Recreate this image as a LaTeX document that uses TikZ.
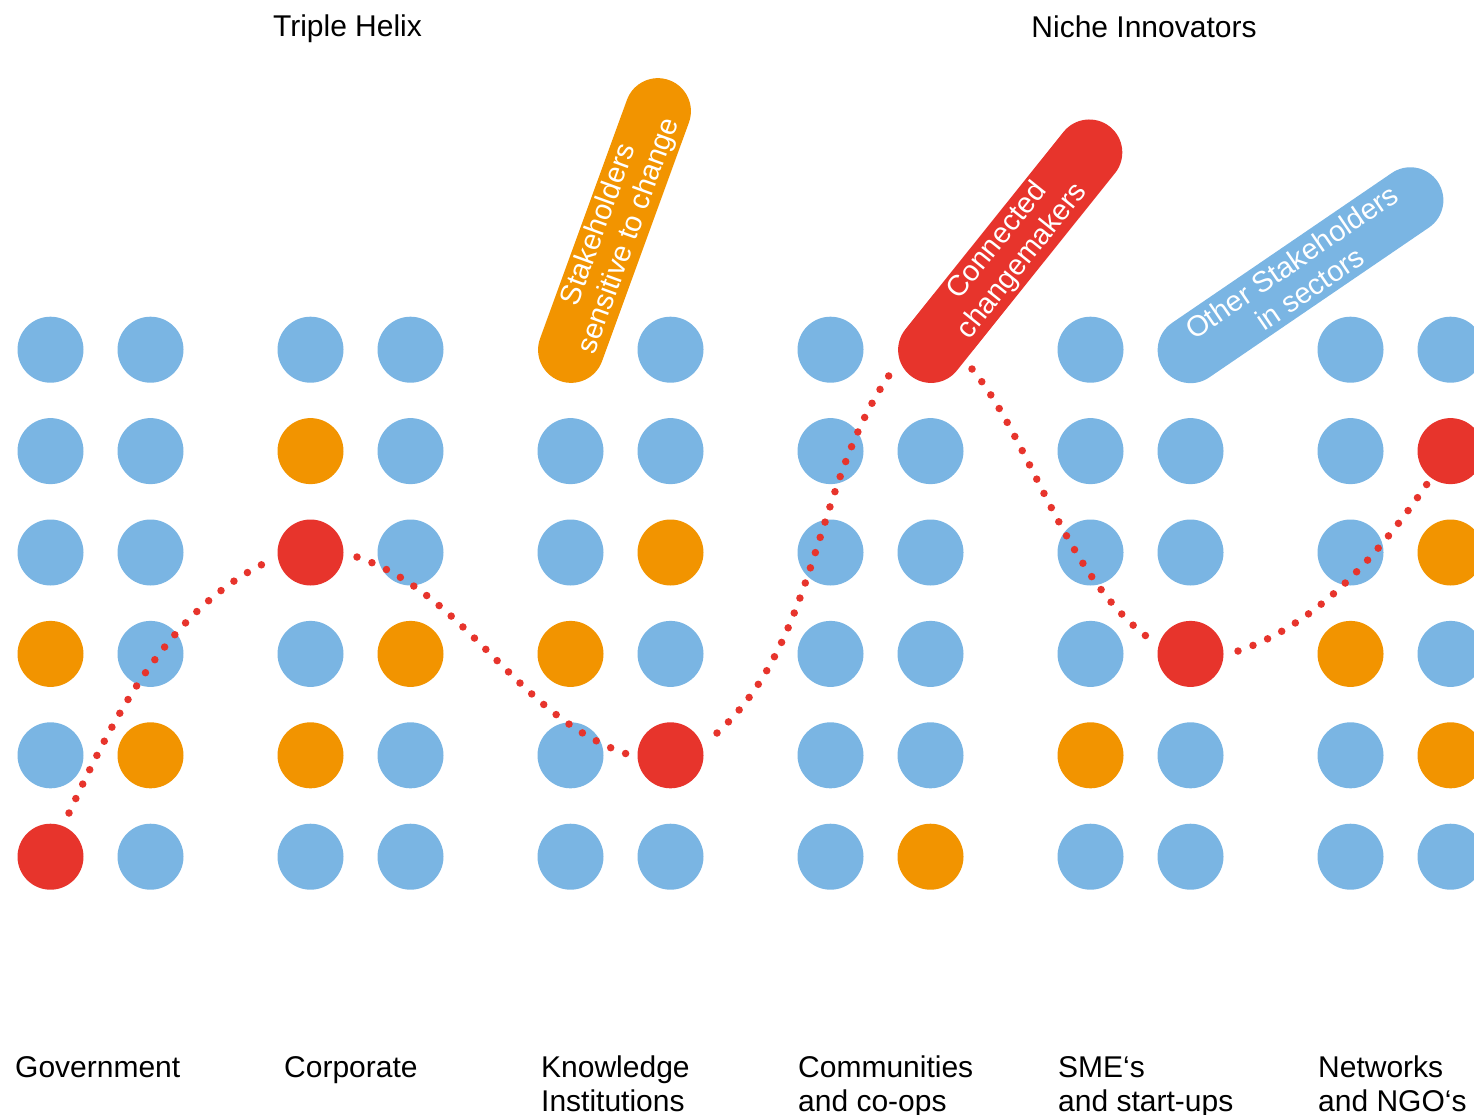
\documentclass[tikz,border=0pt]{standalone}
\usepackage{fontspec}
\setmainfont{Liberation Sans}
\usetikzlibrary{shapes.misc}
\definecolor{cblue}{RGB}{122,181,227}
\definecolor{corange}{RGB}{242,148,0}
\definecolor{cred}{RGB}{231,52,44}
\tikzset{
  circ/.style={circle, minimum size=66pt, inner sep=0pt, draw=none},
  kb/.style={fill=cblue}, ko/.style={fill=corange}, kr/.style={fill=cred},
  pill/.style={rounded rectangle, minimum height=66pt, inner sep=0pt, draw=none,
     text=white, align=center, font=\fontsize{29}{32}\selectfont},
  lbl/.style={anchor=base west, inner sep=0pt, align=left, font=\fontsize{30}{34}\selectfont},
  ttl/.style={anchor=base, inner sep=0pt, font=\fontsize{30}{34}\selectfont},
  dotline/.style={draw=cred, line width=7.5pt, line cap=round, dash pattern=on 0pt off 16pt}
}
\begin{document}
\begin{tikzpicture}[x=1pt, y=-1pt]
\useasboundingbox (0,0) rectangle (1474,1114);
% grid of circles
\foreach \j in {1,2,3,4,6,7,9,11,12}{
  \pgfmathsetmacro{\xx}{50.5+260*floor((\j-1)/2)+100*mod(\j-1,2)}
  \node[circ, kb] (c1-\j) at (\xx,349.7) {};
}
\foreach \k [count=\j] in {b,b,o,b,b,b,b,b,b,b,b,r}{
  \pgfmathsetmacro{\xx}{50.5+260*floor((\j-1)/2)+100*mod(\j-1,2)}
  \node[circ, k\k] (c2-\j) at (\xx,451.1) {};
}
\foreach \k [count=\j] in {b,b,r,b,b,o,b,b,b,b,b,o}{
  \pgfmathsetmacro{\xx}{50.5+260*floor((\j-1)/2)+100*mod(\j-1,2)}
  \node[circ, k\k] (c3-\j) at (\xx,552.5) {};
}
\foreach \k [count=\j] in {o,b,b,o,o,b,b,b,b,r,o,b}{
  \pgfmathsetmacro{\xx}{50.5+260*floor((\j-1)/2)+100*mod(\j-1,2)}
  \node[circ, k\k] (c4-\j) at (\xx,653.9) {};
}
\foreach \k [count=\j] in {b,o,o,b,b,r,b,b,o,b,b,o}{
  \pgfmathsetmacro{\xx}{50.5+260*floor((\j-1)/2)+100*mod(\j-1,2)}
  \node[circ, k\k] (c5-\j) at (\xx,755.3) {};
}
\foreach \k [count=\j] in {r,b,b,b,b,b,b,o,b,b,b,b}{
  \pgfmathsetmacro{\xx}{50.5+260*floor((\j-1)/2)+100*mod(\j-1,2)}
  \node[circ, k\k] (c6-\j) at (\xx,856.7) {};
}
% pills
\node[pill, fill=corange, minimum width=320pt, rotate=70] (p1) at (614.5,230.5) {Stakeholders\\sensitive to change};
\node[pill, fill=cred, minimum width=319pt, rotate=51.3] (p2) at (1010.2,251.2) {Connected\\changemakers};
\node[pill, fill=cblue, minimum width=332pt, rotate=34.3] (p3) at (1300.5,275.2) {Other Stakeholders\\in sectors};
% dotted path
\coordinate (d1s) at (69,813);   \coordinate (d1e) at (263,564);
\coordinate (d2s) at (357,557);  \coordinate (d2e) at (627,754);
\coordinate (d3s) at (717,733);  \coordinate (d3e) at (890,374);
\coordinate (d4s) at (972,369);  \coordinate (d4e) at (1146,636);
\coordinate (d5s) at (1238,651); \coordinate (d5e) at (1427,484);
\draw[dotline] (d1s) .. controls (108,730) and (163,614) .. (d1e);
\draw[dotline] (d2s) .. controls (467,594) and (517,717) .. (d2e);
\draw[dotline] (d3s) .. controls (819,640) and (813,485) .. (d3e);
\draw[dotline] (d4s) .. controls (1030,439) and (1064,573) .. (d4e);
\draw[dotline] (d5s) .. controls (1316,625) and (1377,557) .. (d5e);
% titles
\node[ttl] (t1) at (347.5,36) {Triple Helix};
\node[ttl] (t2) at (1144,37) {Niche Innovators};
% bottom labels
\node[lbl] (l1) at (15,1077) {Government};
\node[lbl] (l2) at (284,1077) {Corporate};
\node[lbl] (l3) at (541,1111) {Knowledge\\Institutions};
\node[lbl] (l4) at (798,1111) {Communities\\and co-ops};
\node[lbl] (l5) at (1058,1111) {SME‘s\\and start-ups};
\node[lbl] (l6) at (1318,1111) {Networks\\and NGO‘s};
\end{tikzpicture}
\end{document}
